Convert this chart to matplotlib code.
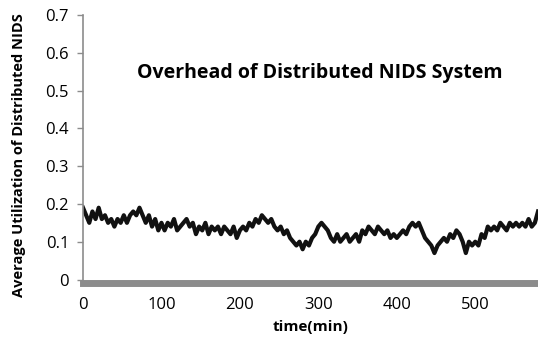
import matplotlib
matplotlib.use("Agg")
import matplotlib.pyplot as plt
import numpy as np

plt.rcParams['font.family'] = ['Open Sans', 'DejaVu Sans']

# time in minutes, one reading every 4 min
time_min = np.arange(0, 581, 4)
utilization = [
    0.19, 0.17, 0.15, 0.18, 0.16, 0.19,
    0.16, 0.17, 0.15, 0.16, 0.14, 0.16, 0.15, 0.17, 0.15,
    0.17, 0.18, 0.17, 0.19, 0.17,
    0.15, 0.17, 0.14, 0.16, 0.13,
    0.15, 0.13, 0.15, 0.14, 0.16, 0.13, 0.14, 0.15, 0.16,
    0.14, 0.15, 0.12, 0.14, 0.13, 0.15, 0.12, 0.14, 0.13, 0.14, 0.12, 0.14, 0.13,
    0.12, 0.14, 0.11, 0.13, 0.14, 0.13, 0.15, 0.14,
    0.16, 0.15, 0.17, 0.16, 0.15, 0.16,
    0.14, 0.13, 0.14, 0.12, 0.13, 0.11,
    0.10, 0.09, 0.10, 0.08, 0.10, 0.09, 0.11,
    0.12, 0.14, 0.15, 0.14, 0.13,
    0.11, 0.10, 0.12, 0.10, 0.11, 0.12, 0.10, 0.11, 0.12, 0.10,
    0.13, 0.12, 0.14, 0.13, 0.12, 0.14, 0.13, 0.12, 0.13, 0.11, 0.12, 0.11, 0.12,
    0.13, 0.12, 0.14, 0.15, 0.14, 0.15, 0.13,
    0.11, 0.10, 0.09, 0.07, 0.09,
    0.10, 0.11, 0.10, 0.12, 0.11, 0.13, 0.12, 0.10, 0.07,
    0.10, 0.09, 0.10, 0.09, 0.12,
    0.11, 0.14, 0.13, 0.14, 0.13, 0.15, 0.14, 0.13, 0.15, 0.14, 0.15, 0.14, 0.15, 0.14, 0.16, 0.14, 0.15,
    0.18,
]
x_ticks = [0, 100, 200, 300, 400, 500]
y_ticks = [0, 0.1, 0.2, 0.3, 0.4, 0.5, 0.6, 0.7]
y_tick_labels = ['0', '0.1', '0.2', '0.3', '0.4', '0.5', '0.6', '0.7']

fig = plt.figure(figsize=(5.38, 3.41), dpi=100)
ax = fig.add_axes([83 / 538, 1 - 279.5 / 341, 1 - 83 / 538, (279.5 - 15) / 341])

ax.plot(time_min, utilization, color='#111111', linewidth=3)

ax.set_xlim(0, 580)
ax.set_ylim(0, 0.7)
ax.set_xticks(x_ticks)
ax.set_yticks(y_ticks)
ax.set_yticklabels(y_tick_labels)

for s in ['top', 'right']:
    ax.spines[s].set_visible(False)
ax.spines['left'].set_color('#8c8c8c')
ax.spines['left'].set_linewidth(1.2)
ax.spines['bottom'].set_color('#8c8c8c')
ax.spines['bottom'].set_linewidth(5)
ax.spines['bottom'].set_position(('outward', 2.5))

ax.tick_params(axis='y', length=4, color='#8c8c8c', width=1, labelsize=12, pad=6)
ax.tick_params(axis='x', length=0, labelsize=12, pad=10)

ax.set_xlabel('time(min)', fontsize=11, fontweight='bold', labelpad=5)
ax.set_ylabel('Average Utilization of Distributed NIDS', fontsize=10.5, fontweight='bold')
ax.yaxis.set_label_coords(-0.125, 0.47)
ax.text(0.52, 0.78, 'Overhead of Distributed NIDS System', transform=ax.transAxes,
        ha='center', va='center', fontsize=14, fontweight='bold')

fig.savefig('out.png', dpi=100)
